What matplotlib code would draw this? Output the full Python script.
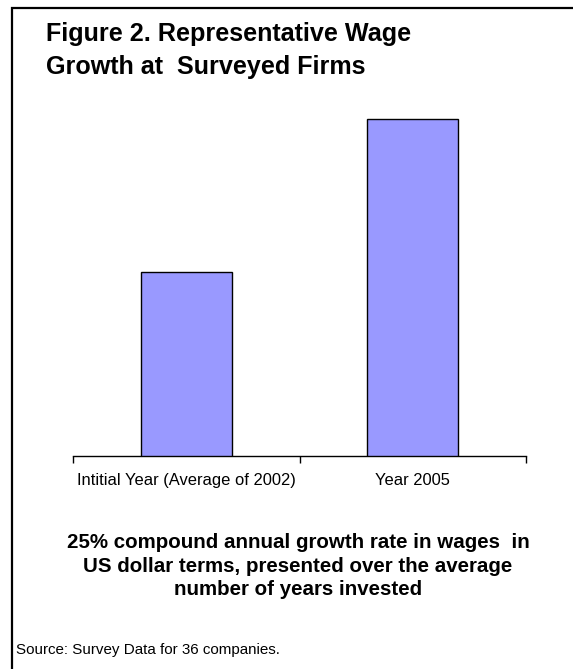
import matplotlib
matplotlib.use("Agg")
import matplotlib.pyplot as plt
from matplotlib.patches import Rectangle

categories = ["Intitial Year (Average of 2002)", "Year 2005"]
values = [100, 183]

title_lines = ["Figure 2. Representative Wage", "Growth at  Surveyed Firms"]
note_lines = ["25% compound annual growth rate in wages  in",
              "US dollar terms, presented over the average",
              "number of years invested"]
source = "Source: Survey Data for 36 companies."

plt.rcParams['font.family'] = ['Liberation Sans', 'DejaVu Sans']

W, H = 573, 669
fig = plt.figure(figsize=(W / 100, H / 100), dpi=100)


def fy(py):
    return 1 - py / H


# outer border (left and top visible, extends beyond right/bottom)
fig.patches.append(Rectangle((12 / W, -0.1), 1.2, fy(8) + 0.1,
                             transform=fig.transFigure, fill=False,
                             edgecolor='black', linewidth=1.6))

ax_left, ax_right = 73, 526
ax_bottom, ax_top = 456, 88
ax = fig.add_axes([ax_left / W, fy(ax_bottom),
                   (ax_right - ax_left) / W, (ax_bottom - ax_top) / H])
ax.patch.set_alpha(0)

x = list(range(len(categories)))
ax.bar(x, values, width=0.40, color='#9999FF', edgecolor='black', linewidth=1.0, zorder=3)
ax.set_xlim(-0.5, 1.5)
ax.set_ylim(0, 200)

for s in ['top', 'right', 'left']:
    ax.spines[s].set_visible(False)
ax.spines['bottom'].set_linewidth(1.0)
ax.set_yticks([])
ax.set_xticks([-0.5, 0.5, 1.5], minor=False)
ax.set_xticklabels([])
ax.set_xticks(x, minor=True)
ax.set_xticklabels(categories, minor=True, fontsize=11.9)
ax.tick_params(axis='x', which='major', length=5, width=1, direction='out')
ax.tick_params(axis='x', which='minor', length=0, pad=12)

for line, base in zip(title_lines, [41, 74]):
    fig.text(46 / W, fy(base), line, fontsize=18.1, fontweight='bold',
             ha='left', va='baseline')

for line, base in zip(note_lines, [548, 572, 595]):
    fig.text(298 / W, fy(base), line, fontsize=14.8, fontweight='bold',
             ha='center', va='baseline')

fig.text(16 / W, fy(654), source, fontsize=10.9, ha='left', va='baseline')

fig.savefig("out.png", dpi=100)
